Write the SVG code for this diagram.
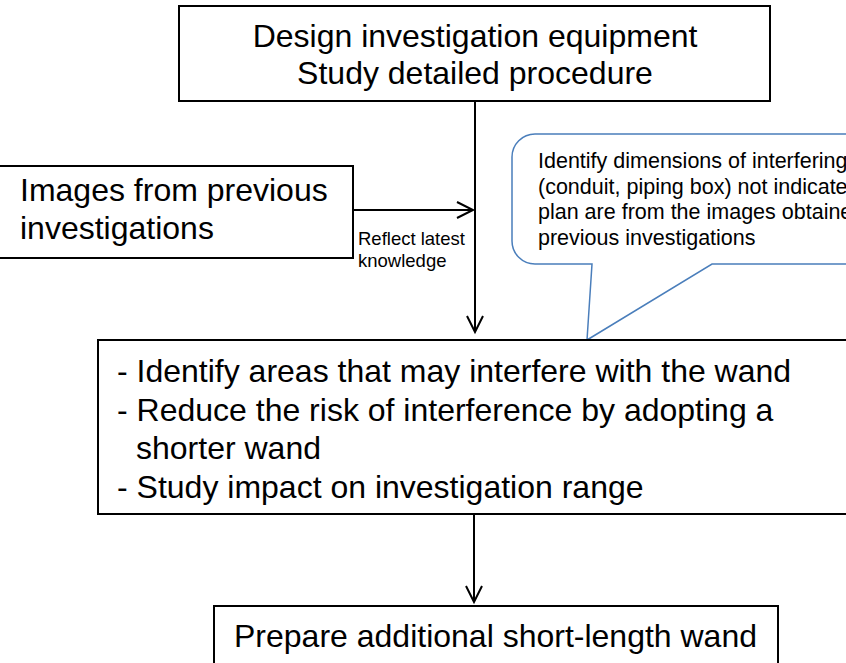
<svg xmlns="http://www.w3.org/2000/svg" width="846" height="663" viewBox="0 0 846 663">
  <style>
    .box { fill: #ffffff; stroke: #000000; stroke-width: 2; }
    .big { font-family: "Liberation Sans", Arial, sans-serif; font-size: 32px; fill: #000000; }
    .note { font-family: "Liberation Sans", Arial, sans-serif; font-size: 21.5px; fill: #000000; }
    .small { font-family: "Liberation Sans", Arial, sans-serif; font-size: 18.5px; fill: #000000; }
    .link { fill: none; stroke: #000000; stroke-width: 2; }
    .head { fill: none; stroke: #000000; stroke-width: 2; }
    .callout { fill: #ffffff; stroke: #4a7ebb; stroke-width: 1.5; }
  </style>
  <rect width="846" height="663" fill="#ffffff"/>

  <g id="connectors">
    <!-- design box to task box -->
    <line class="link" x1="475" y1="101" x2="475" y2="332"/>
    <polyline class="head" points="467,316 475,332 483,316"/>
    <!-- images box to main line -->
    <line class="link" x1="353" y1="210" x2="473" y2="210"/>
    <polyline class="head" points="457,202 473,210 457,218"/>
    <text class="small" x="358" y="245">Reflect latest</text>
    <text class="small" x="358" y="267">knowledge</text>
    <!-- task box to wand box -->
    <line class="link" x1="474" y1="500" x2="474" y2="602"/>
    <polyline class="head" points="466,586 474,602 482,586"/>
  </g>

  <g id="design">
    <rect class="box" x="179" y="6" width="591" height="95"/>
    <text class="big" x="475" y="47" text-anchor="middle">Design investigation equipment</text>
    <text class="big" x="475" y="84" text-anchor="middle">Study detailed procedure</text>
  </g>

  <g id="images">
    <rect class="box" x="-2" y="166" width="355" height="92"/>
    <text class="big" x="20" y="201">Images from previous</text>
    <text class="big" x="20" y="239">investigations</text>
  </g>

  <g id="note">
    <!-- speech bubble running past the right edge, tail pointing at the task box -->
    <path class="callout" d="M535,134 H860 V264 H712 L587,340 L592,264 H535 A23,23 0 0 1 512,241 V157 A23,23 0 0 1 535,134 Z"/>
    <text class="note" x="538" y="168">Identify dimensions of interfering</text>
    <text class="note" x="538" y="194">(conduit, piping box) not indicated</text>
    <text class="note" x="538" y="219">plan are from the images obtained</text>
    <text class="note" x="538" y="245">previous investigations</text>
  </g>

  <g id="tasks">
    <rect class="box" x="98" y="340" width="760" height="174"/>
    <text class="big" x="117" y="382">- Identify areas that may interfere with the wand</text>
    <text class="big" x="117" y="421">- Reduce the risk of interference by adopting a</text>
    <text class="big" x="136" y="459">shorter wand</text>
    <text class="big" x="117" y="498">- Study impact on investigation range</text>
  </g>

  <g id="wand">
    <rect class="box" x="214" y="606" width="564" height="70"/>
    <text class="big" x="234" y="647">Prepare additional short-length wand</text>
  </g>
</svg>
